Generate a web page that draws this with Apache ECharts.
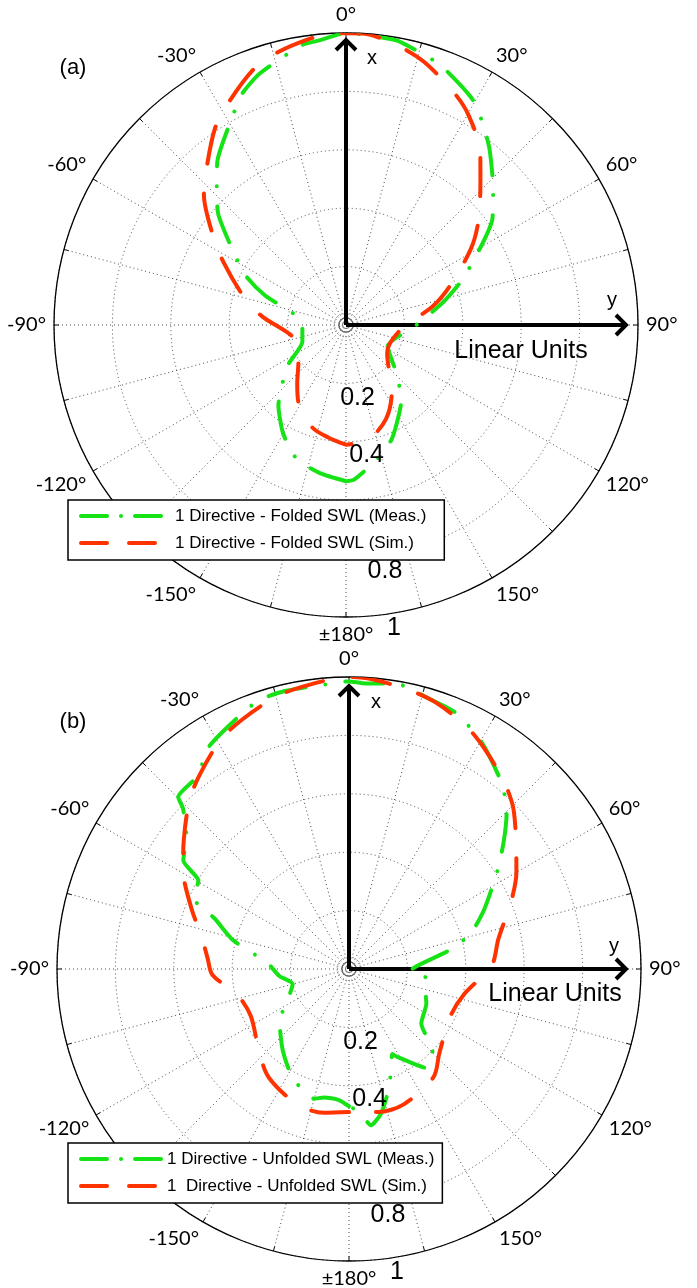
<!DOCTYPE html>
<html>
<head>
<meta charset="utf-8">
<script src="https://cdn.jsdelivr.net/npm/echarts@6/dist/echarts.min.js"></script>
<style>
  html, body { margin: 0; padding: 0; background: #fff; }
  #chart { width: 697px; height: 1288px; }
</style>
</head>
<body>
<div id="chart"></div>
<script>
// Radiation patterns of a one-directive antenna, folded (a) and unfolded (b)
// standing-wave feed. Angles in degrees, clockwise from the x direction
// (0° at the top), radii in linear units.

const radialTicks = [0.2, 0.4, 0.6, 0.8, 1];
const radialTickLabels = ['0.2', '0.4', '0.6', '0.8', '1'];

// (a) folded SWL, measured
const foldedMeasAngles = [-180, -170, -160, -150, -140, -125, -111, -87, -70, -64, -57, -49, -42.5, -38, -28, -24, -19, -9, -5, 0,
  10, 14, 20, 29, 34, 39, 47, 54, 59, 68.5, 77, 91, 117, 133, 143, 158, 168, 177, 180];
const foldedMeasValues = [0.535, 0.515, 0.49, 0.43, 0.36, 0.245, 0.16, 0.15, 0.295, 0.38, 0.46, 0.58, 0.655, 0.715, 0.82, 0.87, 0.91, 0.97, 0.98, 1.0,
  0.99, 0.972, 0.947, 0.888, 0.836, 0.78, 0.689, 0.62, 0.547, 0.43, 0.34, 0.236, 0.16, 0.233, 0.316, 0.42, 0.477, 0.53, 0.535];

// (a) folded SWL, simulated
const foldedSimAngles = [-180, -171, -162, -150, -140, -129, -108, -84, -75, -63, -56, -47.5, -41.5, -33.6, -28, -20, -14.7, -8, -2.5,
  3, 11, 16.5, 24.6, 30, 38, 43, 52, 58.7, 69.4, 77.7, 96, 124, 146, 157, 169, 180];
const foldedSimValues = [0.41, 0.39, 0.37, 0.32, 0.26, 0.21, 0.18, 0.29, 0.36, 0.47, 0.55, 0.66, 0.72, 0.81, 0.86, 0.93, 0.96, 0.985, 1.0,
  1.0, 0.97, 0.94, 0.88, 0.835, 0.747, 0.675, 0.575, 0.50, 0.38, 0.305, 0.185, 0.17, 0.28, 0.35, 0.40, 0.41];

// (b) unfolded SWL, measured
const unfoldedMeasAngles = [-180, -175.6, -169, -165, -152.6, -141, -127.6, -105, -95.7, -85.8, -76, -69.5, -65.4, -59.6, -56.8, -50.8, -46, -44.8, -38, -32.7,
  -26.7, -18.8, -13, -5.6, 0, 2.6, 10, 16.3, 22.8, 30.3, 39.9, 45.4, 50.7, 56.5, 66, 73.9, 79.7, 92, 96.7, 104.6,
  114, 127, 134.3, 142, 151.6, 153, 161, 167.5, 172, 176, 180];
const unfoldedMeasValues = [0.47, 0.45, 0.448, 0.46, 0.42, 0.36, 0.30, 0.20, 0.24, 0.28, 0.41, 0.49, 0.585, 0.598, 0.678, 0.718, 0.79, 0.83, 0.84, 0.897,
  0.927, 0.97, 0.977, 0.977, 0.985, 0.98, 0.99, 0.966, 0.95, 0.90, 0.82, 0.758, 0.684, 0.61, 0.508, 0.433, 0.345, 0.21, 0.266, 0.27,
  0.29, 0.31, 0.40, 0.43, 0.34, 0.327, 0.425, 0.507, 0.54, 0.49, 0.47];

// (b) unfolded SWL, simulated
const unfoldedSimAngles = [-180, -170, -159, -143.5, -133, -115.6, -102.6, -92.5, -85.5, -77, -69, -59, -52, -43.4, -37.4, -29.2, -23, -15, -9.3,
  0, 4.4, 12.2, 18, 26, 31.7, 40, 46.4, 60, 67.2, 78.6, 88.8, 102, 115, 133, 142, 158, 168.5, 180];
const unfoldedSimValues = [0.49, 0.50, 0.496, 0.462, 0.42, 0.373, 0.394, 0.468, 0.486, 0.52, 0.578, 0.663, 0.718, 0.795, 0.84, 0.90, 0.93, 0.965, 0.98,
  1.0, 0.996, 0.977, 0.96, 0.922, 0.885, 0.83, 0.78, 0.662, 0.603, 0.522, 0.488, 0.405, 0.383, 0.423, 0.47, 0.50, 0.50, 0.49];

const GREEN = '#16e316';
const RED = '#ff3300';
const R = 292;                       // outer circle radius, px
const MEAS_DASH = [38, 20, 0.01, 20]; // dash-dot
const SIM_DASH = [38, 30];            // dashed
const RING_LABEL_ANGLE = 171;
const RING_LABEL_PAD = 0.052;

const panels = [
  {
    center: [346, 325], tag: '(a)', tagPos: [73, 68],
    meas: { name: '1 Directive - Folded SWL (Meas.)', angles: foldedMeasAngles, values: foldedMeasValues },
    sim: { name: '1 Directive - Folded SWL (Sim.)', angles: foldedSimAngles, values: foldedSimValues },
    legendTop: 500, legendItemWidth: 89, legendPadRight: 18,
    unitsOffset: [175, 26], xOffset: [26, -267], yOffset: [266, -25],
    xTip: 285, yTip: 280
  },
  {
    center: [349, 969], tag: '(b)', tagPos: [73, 722],
    meas: { name: '1 Directive - Unfolded SWL (Meas.)', angles: unfoldedMeasAngles, values: unfoldedMeasValues },
    sim: { name: '1  Directive - Unfolded SWL (Sim.)', angles: unfoldedSimAngles, values: unfoldedSimValues },
    legendTop: 1143, legendItemWidth: 81, legendPadRight: 8,
    unitsOffset: [206, 25], xOffset: [27, -267], yOffset: [265, -23],
    xTip: 283, yTip: 277
  }
];

function pairs(angles, values) {
  return values.map((v, i) => [v, angles[i]]);
}

const polar = [];
const angleAxis = [];
const radiusAxis = [];
const series = [];
const legend = [];
const graphic = [];

const dotted = { color: '#4a4a4a', width: 1, type: [1, 3] };
const hiddenSymbol = { opacity: 0, borderWidth: 0 };

panels.forEach((p, k) => {
  polar.push({ center: p.center, radius: R });

  angleAxis.push({
    polarIndex: k,
    type: 'value',
    min: -180, max: 180, interval: 15,
    startAngle: 270, clockwise: true,
    axisLine: { show: true, lineStyle: { color: '#000', width: 1.3 } },
    axisTick: { show: true, inside: true, length: 5, lineStyle: { color: '#000', width: 1 } },
    splitLine: { show: true, lineStyle: dotted },
    axisLabel: {
      show: true, margin: 8, color: '#000', fontFamily: 'Lato', fontSize: 20,
      formatter: function (v) {
        if (v % 30 !== 0 || v === 180) return '';
        if (v === -180) return '\u00b1180\u00b0';
        return v + '\u00b0';
      }
    }
  });

  radiusAxis.push({
    polarIndex: k,
    type: 'value', min: 0, max: 1, interval: 0.2,
    axisLine: { show: false }, axisTick: { show: false }, axisLabel: { show: false },
    splitLine: { show: true, lineStyle: dotted }
  });

  series.push({
    name: p.meas.name, type: 'line', coordinateSystem: 'polar', polarIndex: k,
    data: pairs(p.meas.angles, p.meas.values),
    symbol: 'none', showSymbol: false, smooth: 0.2, silent: true, z: 2,
    lineStyle: { color: GREEN, width: 4, type: MEAS_DASH, cap: 'round', join: 'round' },
    itemStyle: { color: GREEN }
  });
  series.push({
    name: p.sim.name, type: 'line', coordinateSystem: 'polar', polarIndex: k,
    data: pairs(p.sim.angles, p.sim.values),
    symbol: 'none', showSymbol: false, smooth: 0.3, silent: true, z: 3,
    lineStyle: { color: RED, width: 4, type: SIM_DASH, cap: 'round', join: 'round' },
    itemStyle: { color: RED }
  });

  // radial tick labels, placed through the polar scale
  series.push({
    name: 'radial ticks ' + k, type: 'scatter', coordinateSystem: 'polar', polarIndex: k,
    clip: false, silent: true, symbol: 'circle', symbolSize: 1, z: 3,
    itemStyle: { color: 'rgba(0,0,0,0)', opacity: 1 },
    data: radialTicks.map((t, i) => ({ name: radialTickLabels[i], value: [t + RING_LABEL_PAD, RING_LABEL_ANGLE] })),
    label: { show: true, position: 'inside', formatter: '{b}', color: '#000', opacity: 1,
      fontFamily: 'Liberation Sans', fontSize: 25, textBorderWidth: 0 }
  });

  legend.push({
    orient: 'vertical', left: 68, top: p.legendTop,
    padding: [6, p.legendPadRight, 7, 11], itemGap: 7,
    itemWidth: p.legendItemWidth, itemHeight: 14,
    backgroundColor: '#fff', borderColor: '#000', borderWidth: 1.5, borderRadius: 0,
    selectedMode: false, z: 6,
    textStyle: { color: '#000', fontFamily: 'Liberation Sans', fontSize: 17, lineHeight: 20 },
    data: [
      { name: p.meas.name, itemStyle: hiddenSymbol,
        lineStyle: { color: GREEN, width: 4, type: [26, 14, 0.01, 14], cap: 'round' } },
      { name: p.sim.name, itemStyle: hiddenSymbol,
        lineStyle: { color: RED, width: 4, type: [26, 22], cap: 'round' } }
    ]
  });

  const [cx, cy] = p.center;
  const ax = cy - p.xTip;   // x-arrow tip (up)
  const ay = cx + p.yTip;   // y-arrow tip (right)
  const arrowStyle = { stroke: '#000', lineWidth: 4, fill: null, lineJoin: 'miter', lineCap: 'butt' };
  graphic.push(
    { type: 'circle', shape: { cx: cx, cy: cy, r: 7 }, style: { stroke: '#444', lineWidth: 1, fill: null }, z: 1 },
    { type: 'circle', shape: { cx: cx, cy: cy, r: 12 }, style: { stroke: '#666', lineWidth: 1, fill: null, lineDash: [1, 2] }, z: 1 },
    { type: 'polyline', shape: { points: [[cx, cy], [cx, ax + 1]] }, style: arrowStyle, z: 1 },
    { type: 'polyline', shape: { points: [[cx - 10, ax + 10], [cx, ax], [cx + 10, ax + 10]] }, style: arrowStyle, z: 1 },
    { type: 'polyline', shape: { points: [[cx, cy], [ay - 1, cy]] }, style: arrowStyle, z: 1 },
    { type: 'polyline', shape: { points: [[ay - 10, cy - 10], [ay, cy], [ay - 10, cy + 10]] }, style: arrowStyle, z: 1 },
    { type: 'text', x: cx + p.xOffset[0], y: cy + p.xOffset[1], z: 5,
      style: { text: 'x', font: '20px "Liberation Sans"', fill: '#000', align: 'center', verticalAlign: 'middle' } },
    { type: 'text', x: cx + p.yOffset[0], y: cy + p.yOffset[1], z: 5,
      style: { text: 'y', font: '20px "Liberation Sans"', fill: '#000', align: 'center', verticalAlign: 'middle' } },
    { type: 'text', x: cx + p.unitsOffset[0], y: cy + p.unitsOffset[1], z: 5,
      style: { text: 'Linear Units', font: '25px "Liberation Sans"', fill: '#000', align: 'center', verticalAlign: 'middle' } },
    { type: 'text', x: p.tagPos[0], y: p.tagPos[1], z: 5,
      style: { text: p.tag, font: '22px "Liberation Sans"', fill: '#000', align: 'center', verticalAlign: 'middle' } }
  );
});

const chart = echarts.init(document.getElementById('chart'), null, { renderer: 'canvas' });
chart.setOption({
  backgroundColor: '#fff',
  animation: false,
  polar: polar,
  angleAxis: angleAxis,
  radiusAxis: radiusAxis,
  legend: legend,
  series: series,
  graphic: graphic
});
</script>
</body>
</html>
